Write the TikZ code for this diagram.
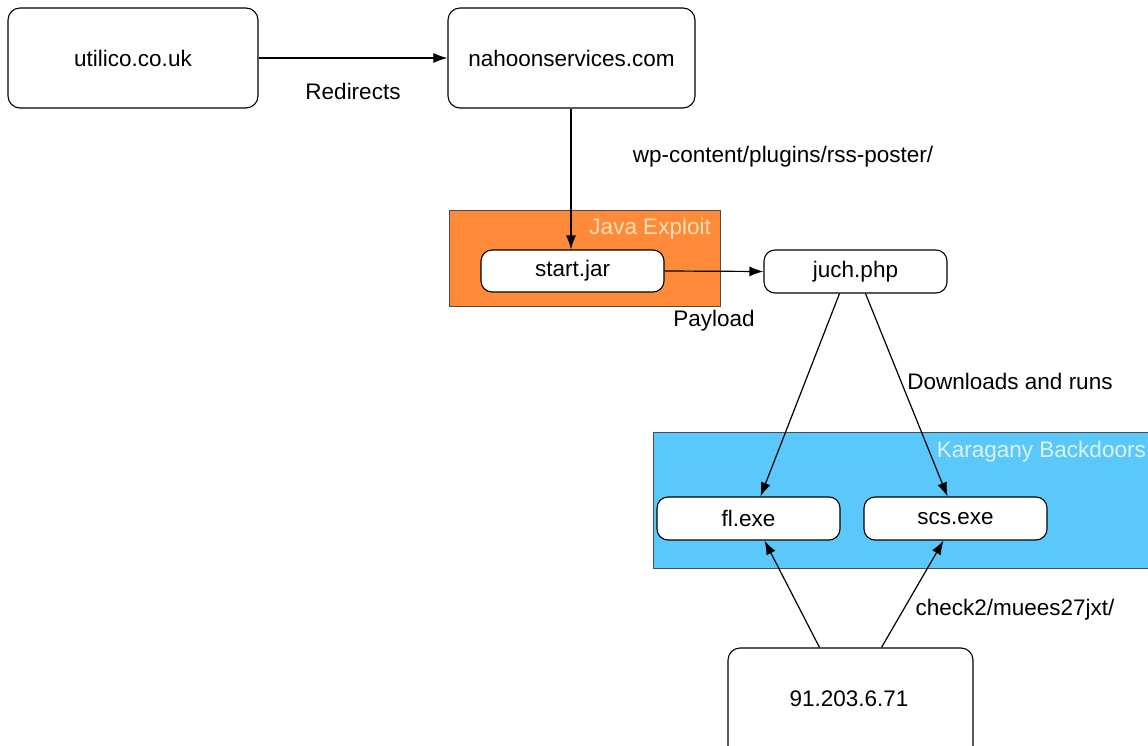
\documentclass[tikz,border=0pt]{standalone}
\usepackage{fontspec}
\setmainfont{Liberation Sans}
\usetikzlibrary{arrows.meta}
\definecolor{javaorange}{RGB}{255,138,58}
\definecolor{karablue}{RGB}{90,200,250}
\definecolor{javatext}{RGB}{255,226,180}
\definecolor{karatext}{RGB}{220,242,255}
\tikzset{
  bigbox/.style={draw=black, line width=1.1pt, rounded corners=12pt, fill=white, minimum width=250pt, minimum height=100pt, inner sep=0pt},
  smallbox/.style={draw=black, line width=1.1pt, rounded corners=11pt, fill=white, minimum width=183pt, minimum height=43pt, inner sep=0pt},
  group/.style={draw=black!70, line width=0.9pt, inner sep=0pt},
  conn/.style={line width=1.2pt, -{Latex[length=14pt,width=10pt]}},
  lbl/.style={inner sep=0pt, font=\fontsize{22.5}{26}\selectfont},
  txt/.style={font=\fontsize{22.5}{26}\selectfont}
}
\begin{document}
\begin{tikzpicture}[x=1pt,y=-1pt]
\useasboundingbox (0,0) rectangle (1148,746);
\clip (0,0) rectangle (1148,746);
\fill[white] (0,0) rectangle (1148,746);
% groups
\node[group, fill=javaorange, minimum width=271pt, minimum height=96pt] (java) at (584.5,258) {};
\node[lbl, text=javatext, anchor=east] (javalbl) at (711,229) {Java Exploit};
\node[group, fill=karablue, minimum width=510pt, minimum height=136pt] (kara) at (908,500) {};
\node[lbl, text=karatext, anchor=east] (karalbl) at (1146,452) {Karagany Backdoors};
% boxes
\node[bigbox, txt] (utilico) at (133,58) {utilico.co.uk};
\node[bigbox, txt, minimum width=247pt] (nahoon) at (571.5,58) {nahoonservices.com};
\node[smallbox, txt, minimum height=42pt] (start) at (572.5,271) {start.jar};
\node[smallbox, txt] (juch) at (855.5,271.5) {juch.php};
\node[smallbox, txt] (fl) at (748.5,518.5) {fl.exe};
\node[smallbox, txt] (scs) at (955.5,518.5) {scs.exe};
\node[bigbox, minimum width=245pt, minimum height=110pt] (ip) at (850.5,703) {};
\node[txt] (iptext) at (849,699) {91.203.6.71};
% labels
\node[lbl] (redirects) at (353,91) {Redirects};
\node[lbl] (wp) at (783,157) {wp-content/plugins/rss-poster/};
\node[lbl] (payload) at (714,321) {Payload};
\node[lbl] (downloads) at (1010,381) {Downloads and runs};
\node[lbl] (check) at (1015,610) {check2/muees27jxt/};
% connectors
\draw[conn] (utilico.east) -- (nahoon.west);
\draw[conn] (nahoon.south -| 571,0) -- (start.north -| 571,0);
\draw[conn] (start.east) -- (juch.west);
\draw[conn] ([xshift=-16pt]juch.south) -- ([xshift=12pt]fl.north);
\draw[conn] ([xshift=10pt]juch.south) -- ([xshift=-8pt]scs.north);
\draw[conn] ([xshift=-31pt]ip.north) -- ([xshift=16pt]fl.south);
\draw[conn] ([xshift=31pt]ip.north) -- ([xshift=-12pt]scs.south);
\end{tikzpicture}
\end{document}
